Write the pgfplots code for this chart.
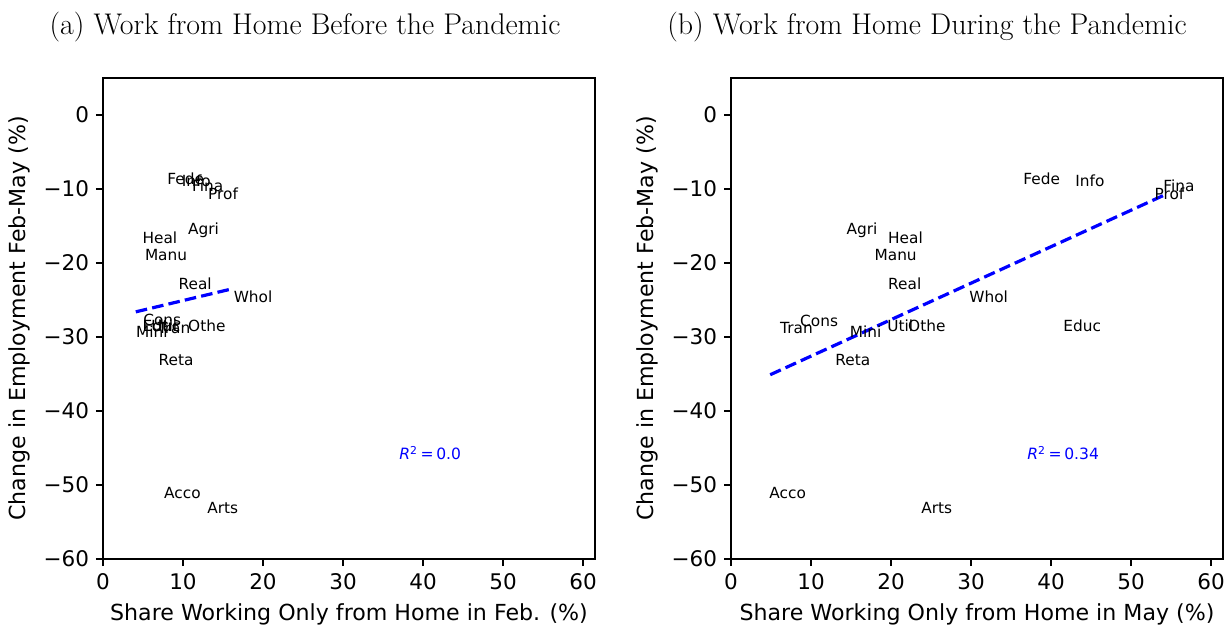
\documentclass[border=0pt]{standalone}
\usepackage{fontspec}
\usepackage{pgfplots}
\usepackage{pgfplotstable}
\pgfplotsset{compat=1.18}
\newfontfamily\dejavu{DejaVu Sans}

\pgfplotstableread{
x y label
8.0 -9.4 Fede
9.8 -9.6 Info
11.1 -10.4 Fina
13.1 -11.4 Prof
10.6 -16.1 Agri
4.9 -17.4 Heal
5.2 -19.6 Manu
9.4 -23.6 Real
16.3 -25.3 Whol
5.0 -28.5 Cons
4.9 -29.2 Educ
6.0 -29.3 Util
6.8 -29.5 Tran
10.6 -29.3 Othe
4.1 -30.1 Mini
6.9 -33.8 Reta
7.6 -51.8 Acco
13.0 -53.8 Arts
}\febdata

\pgfplotstableread{
x y label
36.5 -9.4 Fede
43.0 -9.6 Info
54.0 -10.4 Fina
52.9 -11.4 Prof
14.4 -16.2 Agri
19.6 -17.4 Heal
17.9 -19.6 Manu
19.6 -23.6 Real
29.75 -25.3 Whol
8.6 -28.6 Cons
6.1 -29.5 Tran
14.8 -30.1 Mini
19.5 -29.3 Util
22.1 -29.3 Othe
41.5 -29.3 Educ
13.0 -33.8 Reta
4.75 -51.8 Acco
23.75 -53.8 Arts
}\maydata

\pgfplotsset{
  mystyle/.style={
    scale only axis,
    width=246bp, height=240.5bp,
    xmin=0, xmax=61.5, ymin=-60, ymax=5,
    xtick={0,10,20,30,40,50,60},
    ytick={-60,-50,-40,-30,-20,-10,0},
    yticklabels={−60,−50,−40,−30,−20,−10,0},
    xticklabels={0,10,20,30,40,50,60},
    tick align=outside, tick pos=left,
    major tick length=3.5bp,
    every tick/.style={black, line width=0.7bp},
    axis line style={line width=0.7bp},
    tick label style={font=\dejavu\fontsize{10.8}{12}\selectfont},
    label style={font=\dejavu\fontsize{11.1}{13}\selectfont},
    xlabel style={at={(axis description cs:0.5,0)}, anchor=base, yshift=-30.5bp},
    ylabel style={at={(axis description cs:-0.169,0.5)}, anchor=center},
    clip=false,
  },
  labelplot/.style={
    draw=none, mark=none,
    nodes near coords,
    point meta=explicit symbolic,
    nodes near coords style={anchor=base west, inner sep=0pt, font=\dejavu\fontsize{7.7}{9}\selectfont, black},
  },
}

\begin{document}
\begin{tikzpicture}
\path[use as bounding box] (-51.5bp,-33.5bp) rectangle (560.5bp,279.5bp);

\begin{axis}[mystyle, at={(0bp,0bp)}, anchor=south west,
  xlabel={Share Working Only from Home in Feb. (\%)},
  ylabel={Change in Employment Feb-May (\%)}]
\addplot[labelplot] table[x=x, y=y, meta=label] {\febdata};
\addplot[blue, line width=1.6bp, dash pattern=on 5.8bp off 2.6bp] coordinates {(4.1,-26.6) (16.1,-23.5)};
\node[anchor=base west, inner sep=0pt, text=blue, font=\dejavu\fontsize{7.8}{9}\selectfont] at (axis cs:37,-46.6) {\textit{R}\textsuperscript{2}\,=\,0.0};
\end{axis}

\begin{axis}[mystyle, at={(314bp,0bp)}, anchor=south west,
  xlabel={Share Working Only from Home in May (\%)},
  ylabel={Change in Employment Feb-May (\%)}]
\addplot[labelplot] table[x=x, y=y, meta=label] {\maydata};
\addplot[blue, line width=1.6bp, dash pattern=on 5.8bp off 2.6bp] coordinates {(4.9,-35.1) (54.0,-10.9)};
\node[anchor=base west, inner sep=0pt, text=blue, font=\dejavu\fontsize{7.8}{9}\selectfont] at (axis cs:37,-46.6) {\textit{R}\textsuperscript{2}\,=\,0.34};
\end{axis}

\node[font=\fontsize{15}{17}\selectfont] at (101bp,266bp) {(a) Work from Home Before the Pandemic};
\node[font=\fontsize{15}{17}\selectfont] at (412bp,266bp) {(b) Work from Home During the Pandemic};
\end{tikzpicture}
\end{document}
